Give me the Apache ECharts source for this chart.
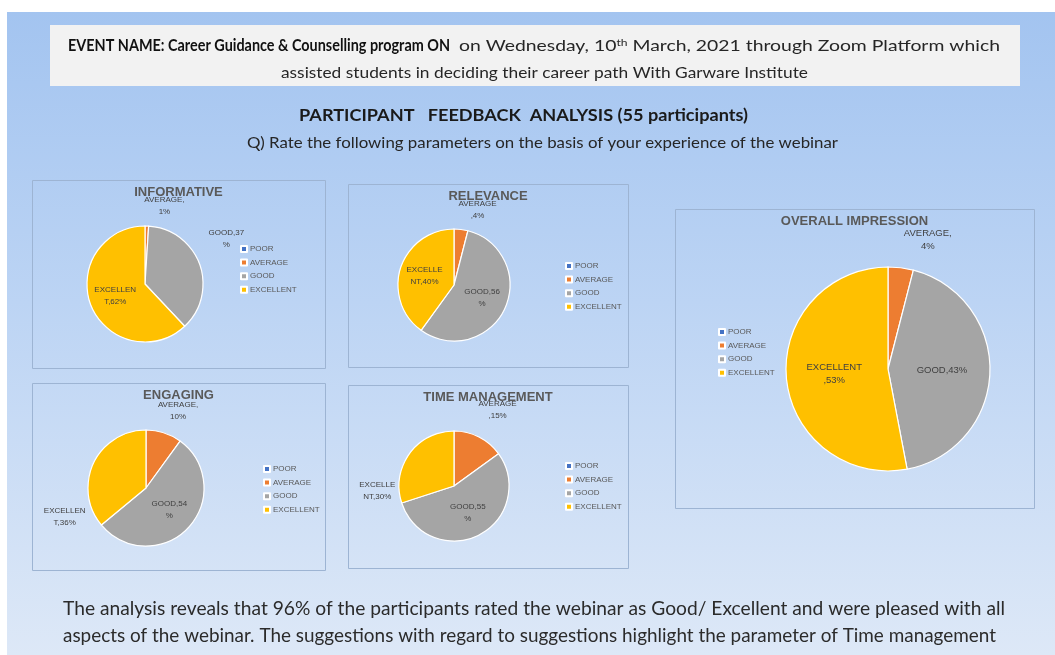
<!DOCTYPE html>
<html><head><meta charset="utf-8">
<script src="https://cdn.jsdelivr.net/npm/echarts@6/dist/echarts.min.js"></script>
<style>html,body{margin:0;padding:0;background:#fff}#c{width:1055px;height:655px}</style>
</head><body><div id="c"></div>
<script>
// ---------- data ----------
const categories = ['POOR', 'AVERAGE', 'GOOD', 'EXCELLENT'];
const chartTitles = ['INFORMATIVE', 'RELEVANCE', 'ENGAGING', 'TIME MANAGEMENT', 'OVERALL IMPRESSION'];
const informative = [0, 1, 37, 62];
const relevance = [0, 4, 56, 40];
const engaging = [0, 10, 54, 36];
const timeManagement = [0, 15, 55, 30];
const overallImpression = [0, 4, 43, 53];
const headerBold = 'EVENT NAME: Career Guidance & Counselling program ON';
const headerRest1 = ' on Wednesday, 10';
const headerSup = 'th';
const headerRest2 = ' March, 2021 through Zoom Platform which';
const headerLine2 = 'assisted students in deciding their career path With Garware Institute';
const mainTitle = 'PARTICIPANT   FEEDBACK  ANALYSIS (55 participants)';
const question = 'Q) Rate the following parameters on the basis of your experience of the webinar';
const conclusion1 = 'The analysis reveals that 96% of the participants rated the webinar as Good/ Excellent and were pleased with all';
const conclusion2 = 'aspects of the webinar. The suggestions with regard to suggestions highlight the parameter of Time management';

// ---------- styles / layout ----------
const colors = ['#4472C4', '#ED7D31', '#A5A5A5', '#FFC000'];
const UI = 'Lato, "Liberation Sans", sans-serif';
const SF = '"Liberation Sans", Arial, sans-serif';
const seriesValues = [informative, relevance, engaging, timeManagement, overallImpression];
// per category (POOR, AVERAGE, GOOD, EXCELLENT): label position, wrap width, label offsets
const panels = [
  {box: [32, 180, 293, 188], center: [145, 284], r: 58, legend: [240, 245], fs: 8, len: 20,
   pos: ['outside', 'outside', 'outside', 'inside'], wrap: [42, 42, 42, 42], dx: [0, 12, 3, 0], dy: [0, 0, -19, 0]},
  {box: [348, 184, 280, 183], center: [454, 285], r: 56, legend: [565, 262], fs: 8, len: 20,
   pos: ['outside', 'outside', 'inside', 'inside'], wrap: [39.5, 39.5, 39.5, 39.5], dx: [0, 9, 0, 0], dy: [0, 0, 0, 0]},
  {box: [32, 383, 293, 187], center: [146, 488], r: 58, legend: [263, 465], fs: 8, len: 23,
   pos: ['outside', 'outside', 'inside', 'outside'], wrap: [42, 42, 42, 42], dx: [0, 2, 0, -3], dy: [0, 0, 0, 63]},
  {box: [348, 385, 280, 183], center: [454, 486], r: 55, legend: [565, 462], fs: 8, len: 30,
   pos: ['outside', 'outside', 'inside', 'outside'], wrap: [39.5, 39.5, 39.5, 39.5], dx: [0, 0, 0, -3], dy: [0, 0, 0, 55]},
  {box: [675, 209, 359, 299], center: [888, 369], r: 102, legend: [718, 328], fs: 9.5, len: 32,
   pos: ['outside', 'outside', 'inside', 'inside'], wrap: [50, 50, 80, 57], dx: [0, 18, 0, 0], dy: [0, 4, 0, 0]}
];

// text measuring helpers (canvas)
const mctx = document.createElement('canvas').getContext('2d');
function tw(text, font) { mctx.font = font; return mctx.measureText(text).width; }
function wrapChars(text, font, width) {
  const lines = [];
  let cur = '';
  for (const ch of text) {
    if (cur && tw(cur + ch, font) > width) { lines.push(cur); cur = ch; }
    else cur += ch;
  }
  if (cur) lines.push(cur);
  return lines.join('\n');
}
// horizontal fit of a text run between two x positions (from the reference)
function fitText(text, font, x0, x1, y, fill) {
  const w = tw(text, font);
  return {type: 'text', x: x0, y: y, scaleX: (x1 - x0) / w, silent: true,
    style: {text: text, font: font, fill: fill, align: 'left', verticalAlign: 'middle'}};
}

const chart = echarts.init(document.getElementById('c'), null, {renderer: 'canvas'});

const fB = 'bold 17px ' + UI, fN = '16px ' + UI, fS = '10px ' + UI;
const restW = tw(headerRest1, fN) + tw(headerSup, fS) + tw(headerRest2, fN);
const graphics = [
  {type: 'rect', shape: {x: 0, y: 0, width: 1055, height: 655}, style: {fill: '#ffffff'}, silent: true},
  {type: 'rect', shape: {x: 7, y: 12, width: 1048, height: 643}, silent: true,
   style: {fill: new echarts.graphic.LinearGradient(0, 0, 0, 1, [
     {offset: 0, color: '#a3c4f0'}, {offset: 0.45, color: '#bcd4f4'}, {offset: 1, color: '#dde8f7'}])}},
  {type: 'rect', shape: {x: 50, y: 25, width: 970, height: 61}, style: {fill: '#f2f2f2'}, silent: true},
  fitText(headerBold, fB, 68, 450, 46, '#111111'),
  {type: 'text', x: 454, y: 46, scaleX: (1000 - 454) / restW, silent: true, style: {
    text: '{n|' + headerRest1 + '}{s|' + headerSup + '}{n|' + headerRest2 + '}',
    align: 'left', verticalAlign: 'middle',
    rich: {
      n: {font: fN, fill: '#262626'},
      s: {font: fS, fill: '#262626', verticalAlign: 'top', padding: [0, 0, 6, 0]}
    }}},
  fitText(headerLine2, fN, 281, 808, 73, '#262626'),
  fitText(mainTitle, 'bold 17px ' + UI, 299, 748, 116, '#1a1a1a'),
  fitText(question, '16px ' + UI, 247, 838, 143, '#262626'),
  fitText(conclusion1, '19px ' + UI, 63, 1005, 609, '#2b2b2b'),
  fitText(conclusion2, '19px ' + UI, 63, 996, 636, '#2b2b2b')
];

panels.forEach((p) => {
  graphics.push({type: 'rect', silent: true, shape: {x: p.box[0] + 0.5, y: p.box[1] + 0.5, width: p.box[2], height: p.box[3]},
    style: {fill: 'none', stroke: '#9db4d3', lineWidth: 1}});
});

const series = [];
const legends = [];
panels.forEach((p, i) => {
  const vals = seriesValues[i];
  const lf = p.fs + 'px ' + SF;
  const data = categories.map((c, k) => ({
    name: c,
    value: vals[k],
    label: {
      show: vals[k] > 0,
      position: p.pos[k],
      formatter: wrapChars(c + ',' + vals[k] + '%', lf, p.wrap[k])
    },
    labelLine: {show: false, length: p.len, length2: 0}
  }));
  series.push({
    type: 'pie',
    center: p.center,
    radius: p.r,
    startAngle: 90,
    clockwise: true,
    avoidLabelOverlap: false,
    animation: false,
    silent: true,
    data: data,
    itemStyle: {borderColor: '#ffffff', borderWidth: 1.2},
    label: {fontFamily: SF, fontSize: p.fs, color: '#404040', lineHeight: p.fs + 4, align: 'center'},
    labelLine: {show: false},
    labelLayout: (prm) => ({align: 'center', dx: p.dx[prm.dataIndex] || 0, dy: p.dy[prm.dataIndex] || 0})
  });
  legends.push({
    orient: 'vertical', left: p.legend[0], top: p.legend[1], icon: 'rect', padding: 0,
    itemWidth: 6, itemHeight: 6, itemGap: 5.6, selectedMode: false,
    data: categories,
    textStyle: {fontFamily: SF, fontSize: 8, color: '#595959', padding: [0, 0, 0, -2]}
  });
  graphics.push({type: 'text', silent: true, x: p.box[0] + p.box[2] / 2, y: p.box[1] + 12, z: 100,
    style: {text: chartTitles[i], align: 'center', verticalAlign: 'middle', font: 'bold 13px ' + SF, fill: '#595959'}});
});

chart.setOption({
  color: colors,
  animation: false,
  graphic: {elements: graphics},
  legend: legends,
  series: series
});
</script>
</body></html>
